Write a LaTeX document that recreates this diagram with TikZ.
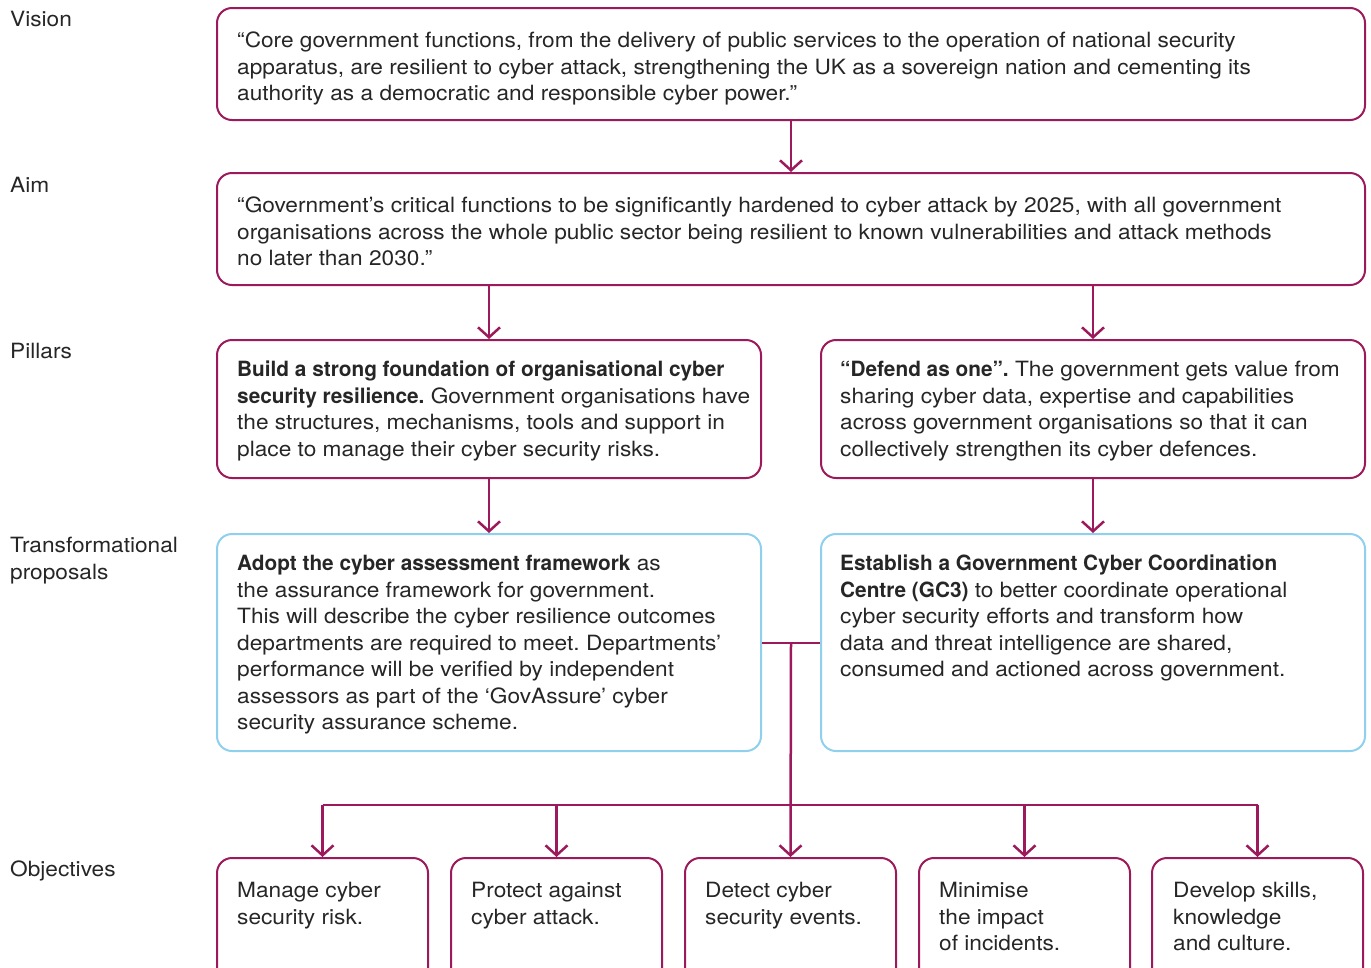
\documentclass[tikz,border=0pt]{standalone}
\usepackage{fontspec}
\setmainfont{TeX Gyre Heros}[FakeStretch=1.08]
\newfontfamily\hbfam{TeX Gyre Heros}[FakeStretch=0.99]
\newcommand\hb[1]{{\hbfam\bfseries #1}}
\usetikzlibrary{arrows.meta}
\definecolor{plum}{HTML}{9C1A5B}
\definecolor{sky}{HTML}{8FD0EF}
\definecolor{ink}{HTML}{262626}
\frenchspacing
\begin{document}
\begin{tikzpicture}[x=1pt,y=-1pt,
 box/.style={draw=plum, line width=2pt, rounded corners=15pt, inner sep=0pt},
 bluebox/.style={draw=sky, line width=2pt, rounded corners=15pt, inner sep=0pt},
 txt/.style={anchor=north west, inner sep=0pt, align=left, text=ink, font=\fontsize{21}{26.5}\selectfont\frenchspacing},
 conn/.style={draw=plum, line width=2.5pt},
 arr/.style={conn, -{Straight Barb[length=10pt,width=22pt]}}]
\path[use as bounding box] (0,0) rectangle (1371,967);
\clip (0,0) rectangle (1371,967);

% left labels
\node[txt] (lvision) at (10,11) {Vision};
\node[txt] (laim) at (10,177) {Aim};
\node[txt] (lpillars) at (10,343) {Pillars};
\node[txt] (lprop) at (10,537) {Transformational\\ proposals};
\node[txt] (lobj) at (10,861) {Objectives};

% boxes
\node[box, minimum width=1148pt, minimum height=112pt] (vision) at (791,64) {};
\node[box, minimum width=1148pt, minimum height=112pt] (aim) at (791,229) {};
\node[box, minimum width=544pt, minimum height=138pt] (pilL) at (489,409) {};
\node[box, minimum width=544pt, minimum height=138pt] (pilR) at (1093,409) {};
\node[bluebox, minimum width=544pt, minimum height=217pt] (propL) at (489,642.5) {};
\node[bluebox, minimum width=544pt, minimum height=217pt] (propR) at (1093,642.5) {};
\node[box, minimum width=211pt, minimum height=132pt] (obj1) at (322.5,924) {};
\node[box, minimum width=211pt, minimum height=132pt] (obj2) at (556.5,924) {};
\node[box, minimum width=211pt, minimum height=132pt] (obj3) at (790.5,924) {};
\node[box, minimum width=211pt, minimum height=132pt] (obj4) at (1024.5,924) {};
\node[box, minimum width=211pt, minimum height=132pt] (obj5) at (1257.5,924) {};

% texts
\node[txt] (tvision) at (237,32) {“Core government functions, from the delivery of public services to the operation of national security\\ apparatus, are resilient to cyber attack, strengthening the UK as a sovereign nation and cementing its\\ authority as a democratic and responsible cyber power.”};
\node[txt] (taim) at (237,197) {“Government’s critical functions to be significantly hardened to cyber attack by 2025, with all government\\ organisations across the whole public sector being resilient to known vulnerabilities and attack methods\\ no later than 2030.”};
\node[txt] (tpilL) at (237,361) {\hb{Build a strong foundation of organisational cyber}\\ \hb{security resilience.} Government organisations have\\ the structures, mechanisms, tools and support in\\ place to manage their cyber security risks.};
\node[txt] (tpilR) at (840,361) {\hb{“Defend as one”.} The government gets value from\\ sharing cyber data, expertise and capabilities\\ across government organisations so that it can\\ collectively strengthen its cyber defences.};
\node[txt] (tpropL) at (237,555) {\hb{Adopt the cyber assessment framework} as\\ the assurance framework for government.\\ This will describe the cyber resilience outcomes\\ departments are required to meet. Departments’\\ performance will be verified by independent\\ assessors as part of the ‘GovAssure’ cyber\\ security assurance scheme.};
\node[txt] (tpropR) at (840,555) {\hb{Establish a Government Cyber Coordination}\\ \hb{Centre (GC3)} to better coordinate operational\\ cyber security efforts and transform how\\ data and threat intelligence are shared,\\ consumed and actioned across government.};
\node[txt] (tobj1) at (237,882) {Manage cyber\\ security risk.};
\node[txt] (tobj2) at (471,882) {Protect against\\ cyber attack.};
\node[txt] (tobj3) at (705,882) {Detect cyber\\ security events.};
\node[txt] (tobj4) at (939,882) {Minimise\\ the impact\\ of incidents.};
\node[txt] (tobj5) at (1173,882) {Develop skills,\\ knowledge\\ and culture.};

% connectors
\draw[arr] (vision.south) -- (aim.north);
\draw[arr] (aim.south -| pilL.north) -- (pilL.north);
\draw[arr] (aim.south -| pilR.north) -- (pilR.north);
\draw[arr] (pilL.south) -- (propL.north);
\draw[arr] (pilR.south) -- (propR.north);
\coordinate (j) at (791,643);
\coordinate (bus) at (791,805);
\draw[conn] (propL.east |- j) -- (propR.west |- j);
\draw[arr] (j) -- (obj3.north);
\draw[conn] (obj1.north |- bus) -- (obj5.north |- bus);
\draw[arr] (obj1.north |- bus) -- (obj1.north);
\draw[arr] (obj2.north |- bus) -- (obj2.north);
\draw[arr] (obj4.north |- bus) -- (obj4.north);
\draw[arr] (obj5.north |- bus) -- (obj5.north);
\end{tikzpicture}
\end{document}
